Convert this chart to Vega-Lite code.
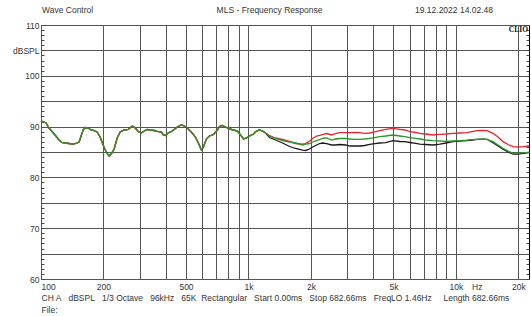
{
  "$schema": "https://vega.github.io/schema/vega-lite/v6.json",
  "width": 488,
  "height": 254,
  "autosize": {"type": "none"},
  "padding": {"left": 41, "top": 25, "right": 2, "bottom": 37},
  "background": "white",
  "config": {
    "view": {"stroke": "#000", "strokeWidth": 1},
    "font": "Liberation Sans",
    "axis": {"labelFont": "Liberation Sans", "titleFont": "Liberation Sans"}
  },
  "data": {
    "values": [
      {"f": 100, "b": 91.1, "r": 91.1, "g": 91.1},
      {"f": 102.2, "b": 91.0, "r": 91.0, "g": 91.0},
      {"f": 105.7, "b": 90.71, "r": 90.71, "g": 90.71},
      {"f": 109.3, "b": 89.72, "r": 89.72, "g": 89.72},
      {"f": 113.0, "b": 89.04, "r": 89.04, "g": 89.04},
      {"f": 116.8, "b": 88.35, "r": 88.35, "g": 88.35},
      {"f": 122.2, "b": 87.36, "r": 87.36, "g": 87.36},
      {"f": 126.3, "b": 86.87, "r": 86.87, "g": 86.87},
      {"f": 130.6, "b": 86.77, "r": 86.77, "g": 86.77},
      {"f": 136.5, "b": 86.67, "r": 86.67, "g": 86.67},
      {"f": 141.2, "b": 86.57, "r": 86.57, "g": 86.57},
      {"f": 146.0, "b": 86.67, "r": 86.67, "g": 86.67},
      {"f": 149.3, "b": 86.77, "r": 86.77, "g": 86.77},
      {"f": 152.6, "b": 86.97, "r": 86.97, "g": 86.97},
      {"f": 156.1, "b": 88.15, "r": 88.15, "g": 88.15},
      {"f": 159.6, "b": 89.33, "r": 89.33, "g": 89.33},
      {"f": 163.2, "b": 89.82, "r": 89.82, "g": 89.82},
      {"f": 168.7, "b": 89.72, "r": 89.72, "g": 89.72},
      {"f": 174.4, "b": 89.33, "r": 89.33, "g": 89.33},
      {"f": 180.3, "b": 89.23, "r": 89.23, "g": 89.23},
      {"f": 186.4, "b": 88.94, "r": 88.94, "g": 88.94},
      {"f": 192.8, "b": 87.95, "r": 87.95, "g": 87.95},
      {"f": 199.3, "b": 86.38, "r": 86.38, "g": 86.38},
      {"f": 206.1, "b": 85.0, "r": 85.0, "g": 85.0},
      {"f": 213.1, "b": 84.2, "r": 84.2, "g": 84.2},
      {"f": 217.9, "b": 84.61, "r": 84.61, "g": 84.61},
      {"f": 225.3, "b": 85.59, "r": 85.59, "g": 85.59},
      {"f": 232.9, "b": 87.76, "r": 87.76, "g": 87.76},
      {"f": 240.8, "b": 88.94, "r": 88.94, "g": 88.94},
      {"f": 251.8, "b": 89.33, "r": 89.33, "g": 89.33},
      {"f": 263.3, "b": 89.43, "r": 89.43, "g": 89.43},
      {"f": 275.3, "b": 90.12, "r": 90.12, "g": 90.12},
      {"f": 284.6, "b": 89.72, "r": 89.72, "g": 89.72},
      {"f": 294.3, "b": 89.04, "r": 89.04, "g": 89.04},
      {"f": 304.2, "b": 88.74, "r": 88.74, "g": 88.74},
      {"f": 314.6, "b": 89.13, "r": 89.13, "g": 89.13},
      {"f": 325.2, "b": 89.43, "r": 89.43, "g": 89.43},
      {"f": 336.2, "b": 89.33, "r": 89.33, "g": 89.33},
      {"f": 351.6, "b": 89.23, "r": 89.23, "g": 89.23},
      {"f": 363.5, "b": 89.04, "r": 89.04, "g": 89.04},
      {"f": 380.0, "b": 88.94, "r": 88.94, "g": 88.94},
      {"f": 388.6, "b": 88.35, "r": 88.35, "g": 88.35},
      {"f": 397.2, "b": 88.25, "r": 88.25, "g": 88.25},
      {"f": 410.7, "b": 88.74, "r": 88.74, "g": 88.74},
      {"f": 429.4, "b": 89.13, "r": 89.13, "g": 89.13},
      {"f": 453.9, "b": 89.92, "r": 89.92, "g": 89.92},
      {"f": 474.6, "b": 90.31, "r": 90.31, "g": 90.31},
      {"f": 490.7, "b": 90.12, "r": 90.12, "g": 90.12},
      {"f": 507.4, "b": 89.72, "r": 89.72, "g": 89.72},
      {"f": 530.5, "b": 88.94, "r": 88.94, "g": 88.94},
      {"f": 554.7, "b": 87.95, "r": 87.95, "g": 87.95},
      {"f": 573.5, "b": 86.77, "r": 86.77, "g": 86.77},
      {"f": 592.9, "b": 85.39, "r": 85.39, "g": 85.39},
      {"f": 606.3, "b": 85.98, "r": 85.98, "g": 85.98},
      {"f": 626.8, "b": 87.56, "r": 87.56, "g": 87.56},
      {"f": 648.1, "b": 88.15, "r": 88.15, "g": 88.15},
      {"f": 677.6, "b": 88.44, "r": 88.44, "g": 88.44},
      {"f": 708.5, "b": 89.33, "r": 89.33, "g": 89.33},
      {"f": 724.4, "b": 90.02, "r": 90.02, "g": 90.02},
      {"f": 748.9, "b": 90.22, "r": 90.22, "g": 90.22},
      {"f": 774.3, "b": 89.92, "r": 89.92, "g": 89.92},
      {"f": 809.6, "b": 89.53, "r": 89.53, "g": 89.53},
      {"f": 846.4, "b": 89.33, "r": 89.33, "g": 89.33},
      {"f": 885.0, "b": 89.13, "r": 89.13, "g": 89.13},
      {"f": 915.0, "b": 88.35, "r": 88.35, "g": 88.35},
      {"f": 946.0, "b": 87.56, "r": 87.56, "g": 87.56},
      {"f": 978.0, "b": 87.76, "r": 87.76, "g": 87.76},
      {"f": 1011, "b": 88.15, "r": 88.15, "g": 88.15},
      {"f": 1057, "b": 88.54, "r": 88.54, "g": 88.54},
      {"f": 1093, "b": 89.13, "r": 89.13, "g": 89.13},
      {"f": 1130, "b": 89.33, "r": 89.33, "g": 89.33},
      {"f": 1169, "b": 89.13, "r": 89.13, "g": 89.13},
      {"f": 1208, "b": 88.74, "r": 88.74, "g": 88.74},
      {"f": 1263, "b": 87.85, "r": 88.25, "g": 88.15},
      {"f": 1350, "b": 87.36, "r": 87.76, "g": 87.66},
      {"f": 1460, "b": 86.77, "r": 87.46, "g": 87.26},
      {"f": 1578, "b": 86.08, "r": 87.07, "g": 86.97},
      {"f": 1687, "b": 85.69, "r": 86.67, "g": 86.77},
      {"f": 1823, "b": 85.39, "r": 86.57, "g": 86.38},
      {"f": 1885, "b": 85.3, "r": 86.67, "g": 86.57},
      {"f": 1971, "b": 85.59, "r": 87.17, "g": 86.67},
      {"f": 2038, "b": 85.98, "r": 87.66, "g": 86.97},
      {"f": 2131, "b": 86.38, "r": 88.15, "g": 87.26},
      {"f": 2203, "b": 86.67, "r": 88.25, "g": 87.46},
      {"f": 2278, "b": 86.77, "r": 88.44, "g": 87.66},
      {"f": 2382, "b": 86.67, "r": 88.64, "g": 87.76},
      {"f": 2518, "b": 86.38, "r": 88.35, "g": 87.36},
      {"f": 2633, "b": 86.38, "r": 88.64, "g": 87.56},
      {"f": 2753, "b": 86.48, "r": 88.8, "g": 87.66},
      {"f": 2943, "b": 86.38, "r": 88.8, "g": 87.7},
      {"f": 3076, "b": 86.18, "r": 88.8, "g": 87.56},
      {"f": 3252, "b": 86.18, "r": 88.84, "g": 87.5},
      {"f": 3438, "b": 86.18, "r": 88.8, "g": 87.5},
      {"f": 3635, "b": 86.28, "r": 88.68, "g": 87.56},
      {"f": 3842, "b": 86.48, "r": 88.74, "g": 87.7},
      {"f": 4062, "b": 86.63, "r": 88.94, "g": 87.85},
      {"f": 4296, "b": 86.77, "r": 89.23, "g": 88.01},
      {"f": 4590, "b": 86.83, "r": 89.47, "g": 88.15},
      {"f": 4962, "b": 87.22, "r": 89.66, "g": 88.35},
      {"f": 5364, "b": 87.07, "r": 89.47, "g": 88.15},
      {"f": 5669, "b": 87.03, "r": 89.33, "g": 88.01},
      {"f": 5995, "b": 86.87, "r": 89.0, "g": 87.85},
      {"f": 6410, "b": 86.71, "r": 88.84, "g": 87.7},
      {"f": 6701, "b": 86.57, "r": 88.68, "g": 87.56},
      {"f": 7164, "b": 86.48, "r": 88.54, "g": 87.36},
      {"f": 7743, "b": 86.38, "r": 88.35, "g": 87.22},
      {"f": 8368, "b": 86.57, "r": 88.48, "g": 87.17},
      {"f": 8947, "b": 86.77, "r": 88.54, "g": 87.07},
      {"f": 9671, "b": 87.03, "r": 88.68, "g": 87.17},
      {"f": 10454, "b": 87.13, "r": 88.74, "g": 87.22},
      {"f": 11300, "b": 87.22, "r": 88.8, "g": 87.32},
      {"f": 11950, "b": 87.36, "r": 89.0, "g": 87.42},
      {"f": 12630, "b": 87.5, "r": 89.19, "g": 87.5},
      {"f": 13355, "b": 87.52, "r": 89.23, "g": 87.52},
      {"f": 14120, "b": 87.5, "r": 89.19, "g": 87.5},
      {"f": 15090, "b": 86.83, "r": 88.68, "g": 87.03},
      {"f": 15954, "b": 86.18, "r": 87.95, "g": 86.38},
      {"f": 16866, "b": 85.53, "r": 87.03, "g": 85.73},
      {"f": 17833, "b": 85.0, "r": 86.48, "g": 85.2},
      {"f": 18857, "b": 84.61, "r": 86.04, "g": 84.74},
      {"f": 19932, "b": 84.61, "r": 85.98, "g": 84.74},
      {"f": 21075, "b": 84.74, "r": 86.04, "g": 84.86},
      {"f": 22500, "b": 84.86, "r": 86.18, "g": 84.94}
    ]
  },
  "resolve": {"axis": {"y": "independent"}},
  "layer": [
    {
      "mark": {"type": "line", "color": "#1a1a1a", "strokeWidth": 1.3},
      "encoding": {
        "x": {
          "field": "f", "type": "quantitative",
          "scale": {"type": "log", "domain": [100, 22500], "nice": false},
          "axis": {
            "values": [100, 200, 300, 400, 500, 600, 700, 800, 900, 1000, 2000, 3000, 4000, 5000, 6000, 7000, 8000, 9000, 10000, 12600, 20000],
            "ticks": false,
            "domain": false,
            "grid": true,
            "gridColor": {"condition": {"test": "datum.value === 12600", "value": "transparent"}, "value": "#555555"},
            "gridWidth": 1,
            "labelExpr": "datum.value === 100 ? '100' : datum.value === 200 ? '200' : datum.value === 500 ? '500' : datum.value === 1000 ? '1k' : datum.value === 2000 ? '2k' : datum.value === 5000 ? '5k' : datum.value === 10000 ? '10k' : datum.value === 12600 ? 'Hz' : datum.value === 20000 ? '20k' : ''",
            "labelFlush": true,
            "labelOverlap": false,
            "labelPadding": 3,
            "labelFontSize": 8.5,
            "labelColor": "#333333",
            "title": ["CH A\u00a0\u00a0\u00a0dBSPL\u00a0\u00a0\u00a01/3 Octave\u00a0\u00a0\u00a096kHz\u00a0\u00a0\u00a065K\u00a0\u00a0Rectangular\u00a0\u00a0\u00a0Start 0.00ms\u00a0\u00a0\u00a0Stop 682.66ms\u00a0\u00a0\u00a0FreqLO 1.46Hz\u00a0\u00a0\u00a0\u00a0\u00a0Length 682.66ms", "File:"],
            "titleAnchor": "start",
            "titleAlign": "left",
            "titleFontWeight": "normal",
            "titleFontSize": 8.5,
            "titleColor": "#333333",
            "titlePadding": 3,
            "titleLineHeight": 12
          }
        },
        "y": {
          "field": "b", "type": "quantitative",
          "scale": {"domain": [60, 110], "nice": false, "zero": false},
          "axis": {
            "orient": "left",
            "values": [60,61,62,63,64,65,66,67,68,69,70,71,72,73,74,75,76,77,78,79,80,81,82,83,84,85,86,87,88,89,90,91,92,93,94,95,96,97,98,99,100,101,102,103,104,105,106,107,108,109,110],
            "tickSize": -3,
            "tickColor": "#444444",
            "domain": false,
            "grid": true,
            "gridColor": "#555555",
            "gridOpacity": {"condition": {"test": "datum.value % 5 === 0", "value": 1}, "value": 0},
            "labelExpr": "datum.value % 10 === 0 ? datum.label : (datum.value === 105 ? 'dBSPL' : '')",
            "labelOverlap": false,
            "labelPadding": 5,
            "labelFontSize": 8.5,
            "labelColor": "#333333",
            "title": null
          }
        }
      }
    },
    {
      "mark": {"type": "line", "color": "#e3262b", "strokeWidth": 1.3},
      "encoding": {
        "x": {"field": "f", "type": "quantitative", "scale": {"type": "log", "domain": [100, 22500], "nice": false}},
        "y": {
          "field": "r", "type": "quantitative",
          "scale": {"domain": [60, 110], "nice": false, "zero": false},
          "axis": {
            "orient": "right",
            "values": [60,61,62,63,64,65,66,67,68,69,70,71,72,73,74,75,76,77,78,79,80,81,82,83,84,85,86,87,88,89,90,91,92,93,94,95,96,97,98,99,100,101,102,103,104,105,106,107,108,109,110],
            "tickSize": -3,
            "tickColor": "#444444",
            "domain": false,
            "grid": false,
            "labels": false,
            "title": null
          }
        }
      }
    },
    {
      "mark": {"type": "line", "color": "#2a962a", "strokeWidth": 1.3},
      "encoding": {
        "x": {"field": "f", "type": "quantitative", "scale": {"type": "log", "domain": [100, 22500], "nice": false}},
        "y": {"field": "g", "type": "quantitative", "scale": {"domain": [60, 110], "nice": false, "zero": false}, "axis": null}
      }
    },
    {
      "data": {"values": [{"t": "Wave Control"}]},
      "mark": {"type": "text", "align": "left", "baseline": "middle", "fontSize": 8.5, "color": "#333333", "dx": 1},
      "encoding": {
        "x": {"datum": 100, "type": "quantitative", "scale": {"type": "log", "domain": [100, 22500], "nice": false}},
        "y": {"datum": 112.95, "type": "quantitative", "scale": {"domain": [60, 110], "nice": false, "zero": false}, "axis": null},
        "text": {"field": "t"}
      }
    },
    {
      "data": {"values": [{"t": "MLS - Frequency Response"}]},
      "mark": {"type": "text", "align": "center", "baseline": "middle", "fontSize": 8.5, "color": "#333333"},
      "encoding": {
        "x": {"datum": 1263, "type": "quantitative", "scale": {"type": "log", "domain": [100, 22500], "nice": false}},
        "y": {"datum": 112.95, "type": "quantitative", "scale": {"domain": [60, 110], "nice": false, "zero": false}, "axis": null},
        "text": {"field": "t"}
      }
    },
    {
      "data": {"values": [{"t": "19.12.2022 14.02.48"}]},
      "mark": {"type": "text", "align": "right", "baseline": "middle", "fontSize": 8.5, "color": "#333333"},
      "encoding": {
        "x": {"datum": 15090, "type": "quantitative", "scale": {"type": "log", "domain": [100, 22500], "nice": false}},
        "y": {"datum": 112.95, "type": "quantitative", "scale": {"domain": [60, 110], "nice": false, "zero": false}, "axis": null},
        "text": {"field": "t"}
      }
    },
    {
      "data": {"values": [{"t": "CLIO"}]},
      "mark": {"type": "text", "align": "right", "baseline": "top", "fontSize": 7.5, "font": "Liberation Serif", "fontWeight": "bold", "color": "#111111", "dx": -1, "dy": 1},
      "encoding": {
        "x": {"datum": 22500, "type": "quantitative", "scale": {"type": "log", "domain": [100, 22500], "nice": false}},
        "y": {"datum": 110, "type": "quantitative", "scale": {"domain": [60, 110], "nice": false, "zero": false}, "axis": null},
        "text": {"field": "t"}
      }
    }
  ]
}
